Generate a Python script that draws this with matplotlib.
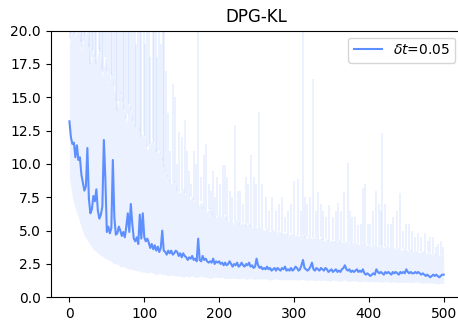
import numpy as np
import matplotlib.pyplot as plt

# mean KL per episode, read every 2 episodes
mean_steps = np.arange(0, 501, 2)
mean_kl = [13.2, 12.0, 11.5, 11.6, 10.5, 11.4, 10.3, 10.5, 9.2, 8.6,
           8.0, 8.3, 11.2, 7.4, 6.3, 6.6, 7.6, 7.2, 8.1, 6.5,
           5.9, 6.2, 6.8, 11.8, 8.9, 4.9, 5.3, 4.8, 5.2, 10.3,
           6.0, 4.7, 4.8, 5.3, 5.0, 4.6, 4.9, 4.5, 5.3, 6.3,
           4.9, 7.0, 5.5, 4.4, 4.2, 4.5, 4.0, 6.2, 4.4, 6.3,
           4.5, 4.2, 4.4, 4.1, 3.7, 4.0, 3.6, 3.9, 3.5, 3.8,
           3.4, 3.7, 5.0, 3.5, 3.4, 3.2, 3.5, 3.3, 3.5, 3.2,
           3.3, 3.5, 3.4, 3.1, 3.3, 3.0, 3.3, 3.1, 3.0, 2.8,
           3.0, 2.9, 3.1, 2.8, 2.9, 2.7, 4.4, 2.8, 2.7, 3.1,
           2.8, 2.9, 2.7, 2.6, 2.7, 2.6, 2.9, 2.5, 2.7, 2.6,
           2.7, 2.5, 2.6, 2.4, 2.6, 2.4, 2.5, 2.7, 2.5, 2.3,
           2.5, 2.4, 2.6, 2.3, 2.4, 2.6, 2.4, 2.3, 2.5, 2.4,
           2.6, 2.3, 2.4, 2.2, 2.3, 2.9, 2.4, 2.2, 2.3, 2.1,
           2.2, 2.1, 2.3, 2.1, 2.2, 2.0, 2.1, 2.2, 2.0, 2.2,
           2.1, 2.0, 2.2, 2.1, 2.3, 2.0, 2.1, 2.0, 2.2, 2.0,
           2.1, 2.3, 2.2, 2.0, 2.1, 2.4, 2.8, 2.2, 2.1, 2.0,
           2.1, 2.3, 2.6, 2.1, 2.0, 2.2, 2.1, 2.0, 2.2, 2.1,
           2.0, 2.2, 2.1, 1.9, 2.0, 2.1, 1.9, 2.0, 2.1, 1.9,
           2.0, 1.9, 2.1, 2.2, 2.4, 2.1, 2.0, 2.1, 1.9, 2.0,
           1.9, 2.0, 2.1, 1.9, 2.0, 1.9, 2.1, 1.8, 1.7, 1.8,
           1.7, 1.6, 1.7, 1.8, 1.7, 2.1, 1.9, 1.8, 1.9, 1.8,
           1.7, 1.9, 1.8, 1.9, 1.8, 1.7, 1.9, 1.8, 1.9, 1.8,
           1.7, 1.9, 1.8, 1.9, 1.8, 2.1, 1.9, 1.8, 1.9, 1.8,
           1.8, 1.9, 1.8, 1.9, 1.8, 1.7, 1.8, 1.7, 1.6, 1.7,
           1.6, 1.5, 1.6, 1.7, 1.6, 1.7, 1.6, 1.5, 1.6, 1.7,
           1.7]

# spread band, read every 4 episodes
band_steps = np.arange(0, 501, 4)
lower_kl = [9.0, 7.5, 6.6, 6.0, 5.2, 4.6, 4.3, 3.9, 3.6, 3.4,
            3.2, 3.1, 2.9, 2.8, 2.7, 2.5, 2.5, 2.3, 2.3, 2.2,
            2.1, 2.1, 2.0, 2.0, 1.9, 1.9, 1.8, 1.9, 1.8, 1.7,
            1.8, 1.7, 1.7, 1.6, 1.7, 1.6, 1.6, 1.6, 1.5, 1.6,
            1.5, 1.6, 1.5, 1.5, 1.6, 1.5, 1.5, 1.4, 1.5, 1.5,
            1.45, 1.5, 1.4, 1.45, 1.4, 1.45, 1.4, 1.4, 1.45, 1.35,
            1.4, 1.4, 1.35, 1.4, 1.35, 1.4, 1.35, 1.3, 1.35, 1.4,
            1.3, 1.35, 1.3, 1.35, 1.3, 1.35, 1.3, 1.3, 1.35, 1.25,
            1.3, 1.3, 1.25, 1.3, 1.25, 1.3, 1.25, 1.2, 1.3, 1.25,
            1.2, 1.25, 1.3, 1.2, 1.2, 1.25, 1.2, 1.15, 1.2, 1.2,
            1.15, 1.2, 1.15, 1.2, 1.15, 1.15, 1.2, 1.1, 1.15, 1.15,
            1.1, 1.15, 1.1, 1.15, 1.1, 1.1, 1.15, 1.1, 1.05, 1.1,
            1.05, 1.1, 1.05, 1.0, 1.05, 1.05]

upper_kl = [19.0, 20.5, 19.5, 21, 18.5, 19.5, 20, 17.5, 18.5, 17.5,
            19, 16.5, 18, 16, 17, 15.5, 14, 15.5, 14.5, 13,
            14.5, 13.5, 12.5, 13, 12, 12.5, 11, 11.5, 12, 10.5,
            11, 10.5, 9.5,
            9.0, 8.5, 8.8, 8.0, 7.8, 8.2, 7.5, 7.2, 7.6, 7.0,
            6.8, 7.2, 6.6, 6.4, 6.8, 6.2, 6.0, 6.3,
            5.9, 6.2, 5.7, 5.8, 5.5, 5.9, 5.4, 5.6, 5.3, 5.6,
            5.2, 5.4, 5.1, 5.3, 5.0, 5.2, 4.9, 5.1, 4.8, 5.0,
            4.7, 4.9, 4.6, 4.8, 4.6,
            4.7, 4.5, 4.7, 4.4, 4.6, 4.4, 4.5, 4.3, 4.5, 4.2,
            4.4, 4.2, 4.3, 4.1, 4.3, 4.1, 4.2, 4.0, 4.2, 4.0,
            4.1, 3.9, 4.1, 3.9, 4.0,
            3.8, 4.0, 3.8, 3.9, 3.7, 3.9, 3.7, 3.8, 3.6, 3.7,
            3.5, 3.7, 3.5, 3.6, 3.4, 3.5, 3.3, 3.5, 3.3, 3.4,
            3.2, 3.3, 3.1, 3.2, 3.0]

# single-episode excursions of the upper band
spike_x = [1, 2, 3, 5, 7, 9, 11, 13, 15, 17, 19, 21, 24, 26, 28, 30, 32,
           34, 36, 39, 41, 43, 45, 48, 50, 53, 55, 57, 59, 62, 64, 66,
           69, 71, 73, 75, 78, 80, 82, 85, 87, 89, 91, 94, 96, 99, 101,
           103, 106, 108, 111, 113, 115, 117, 120, 122, 125, 127, 129,
           132, 135, 138, 141, 144, 146, 150, 154, 157, 160, 163, 166,
           169, 172, 176, 180, 183, 186, 189, 192, 195, 197, 201, 205,
           208, 211, 214, 217, 221, 225, 228, 232, 236, 239, 243, 246,
           249, 253, 257, 262, 266, 270, 276, 280, 284, 288, 292, 296,
           300, 305, 309, 312, 315, 318, 322, 325, 329, 332, 336, 339,
           343, 347, 352, 356, 359, 363, 367, 372, 375, 378, 381, 385,
           389, 392, 395, 399, 402, 405, 409, 413, 416, 418, 421, 425,
           429, 432, 437, 442, 446, 450, 454, 458, 461, 465, 470, 475,
           479, 482, 486, 490, 493, 496, 499]
spike_top = [22, 25, 24, 25, 21, 25, 23, 22, 25, 24, 21, 25, 25, 22, 23,
             25, 21, 25, 24, 22, 25, 23, 21, 25, 22, 24, 20, 25, 21, 25,
             22, 23, 25, 20, 22, 25, 21, 24, 20, 25, 22, 19, 23, 25, 20,
             24, 19, 22, 25, 18, 24, 20, 22, 18, 25, 19, 23, 20, 17,
             13.8, 11, 16, 15.0, 10, 12.4, 12, 13.3, 11, 9.5, 8.5, 11.0,
             10, 22, 9, 10.7, 11.5, 8.5, 8, 9.5, 7.5, 9.0, 8.5, 9.9,
             9.9, 9, 8.0, 7.5, 12.9, 8, 8.0, 7, 9.0, 8.5, 10.7, 9,
             8.5, 13.9, 8.5, 7.5, 6.5, 7.5, 6.5, 7, 7.5, 6, 6.5, 7,
             8.7, 8.9, 6.5, 22, 7.5, 7.0, 7.5, 16.4, 6.5, 7.9, 7, 6.5,
             6, 6.9, 6.0, 6.5, 7.05, 6.5, 7.9, 10.1, 6.5, 6.0, 6, 5.4,
             5.5, 8.2, 8.5, 5.5, 5.5, 6.5, 8.0, 7.0, 6.5, 12.3, 7, 5.5,
             5.5, 6.0, 6.5, 7.8, 5, 5.5, 5.5, 5.0, 4.5, 4.8, 4.5, 4.8,
             4.2, 4.5, 4.5, 3.8, 4.0, 4.2, 3.8]

line_color = '#5e8fff'
band_color = '#a9c6ff'

fig = plt.figure(figsize=(4.58, 3.24), dpi=100)
ax = fig.add_axes([0.1107, 0.0824, 0.899, 0.823])

ax.plot(mean_steps, mean_kl, color=line_color, lw=1.5, label=r'$\delta t$=0.05')
ax.fill_between(band_steps, lower_kl, upper_kl, color=line_color, alpha=0.12, lw=0)
spike_base = np.interp(spike_x, band_steps, upper_kl)
ax.vlines(spike_x, spike_base, spike_top, color=band_color, alpha=0.3, lw=1.1)

ax.set_ylim(0, 20)
ax.set_title('DPG-KL')
ax.legend(loc='upper right')

fig.savefig('out.png', dpi=100)
